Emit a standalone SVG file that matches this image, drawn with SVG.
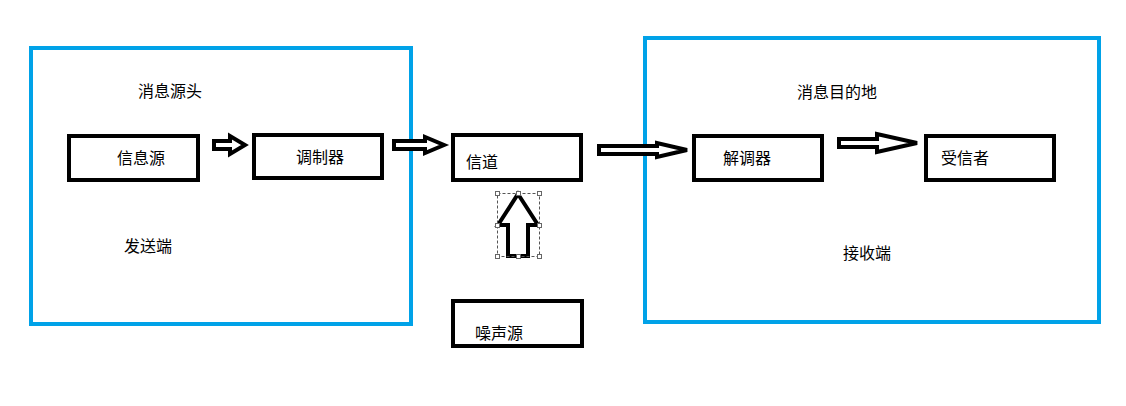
<svg xmlns="http://www.w3.org/2000/svg" width="1126" height="406" viewBox="0 0 1126 406">
<style>
.grp{fill:none;stroke:#00a2e8;stroke-width:4}
.box{fill:#fff;stroke:#000;stroke-width:4}
.arr{fill:#fff;stroke:#000;stroke-width:4;stroke-linejoin:miter}
text{font-family:"Noto Sans CJK SC",sans-serif;font-size:16px;fill:#000}
.h{fill:#fff;stroke:#666;stroke-width:1}
</style>
<rect width="1126" height="406" fill="#fff"/>
<g id="sender"><rect class="grp" x="31" y="48" width="380" height="276"/><text x="138" y="97">消息源头</text><text x="124" y="252">发送端</text></g>
<g id="receiver"><rect class="grp" x="645" y="38" width="454" height="284"/><text x="797" y="98">消息目的地</text><text x="843" y="259">接收端</text></g>
<g id="src"><rect class="box" x="69" y="136" width="129" height="44"/><text x="117" y="164">信息源</text></g>
<g id="mod"><rect class="box" x="254" y="135" width="128" height="43"/><text x="296" y="163">调制器</text></g>
<g id="channel"><rect class="box" x="453" y="135" width="128" height="45"/><text x="466" y="168">信道</text></g>
<g id="demod"><rect class="box" x="694" y="136" width="128" height="44"/><text x="723" y="164">解调器</text></g>
<g id="recv"><rect class="box" x="926" y="136" width="128" height="44"/><text x="941" y="164">受信者</text></g>
<g id="noise"><rect class="box" x="453" y="301" width="129" height="45"/><text x="475" y="339">噪声源</text></g>
<g id="connectors">
<path class="arr" d="M214,141 H230 V136 L245,145 L230,154 V149 H214 Z"/>
<path class="arr" d="M394,141 H425 V137 L444,145 L425,153 V149 H394 Z"/>
<path class="arr" d="M599,146 H657 V143 L687,150 L657,157 V154 H599 Z"/>
<path class="arr" d="M839,139 H877 V134 L917,143 L877,152 V147 H839 Z"/>
<path class="arr" d="M518,194 L538,225 H528 V256 H508 V225 H498 Z"/>
<rect x="497.5" y="193.5" width="42" height="63" fill="none" stroke="#555" stroke-dasharray="3,2"/>
<g class="hs"><rect class="h" x="495.5" y="191.5" width="4" height="4"/><rect class="h" x="516.5" y="191.5" width="4" height="4"/><rect class="h" x="537.5" y="191.5" width="4" height="4"/><rect class="h" x="495.5" y="223.5" width="4" height="4"/><rect class="h" x="537.5" y="223.5" width="4" height="4"/><rect class="h" x="495.5" y="254.5" width="4" height="4"/><rect class="h" x="516.5" y="254.5" width="4" height="4"/><rect class="h" x="537.5" y="254.5" width="4" height="4"/></g>
</g>
</svg>
